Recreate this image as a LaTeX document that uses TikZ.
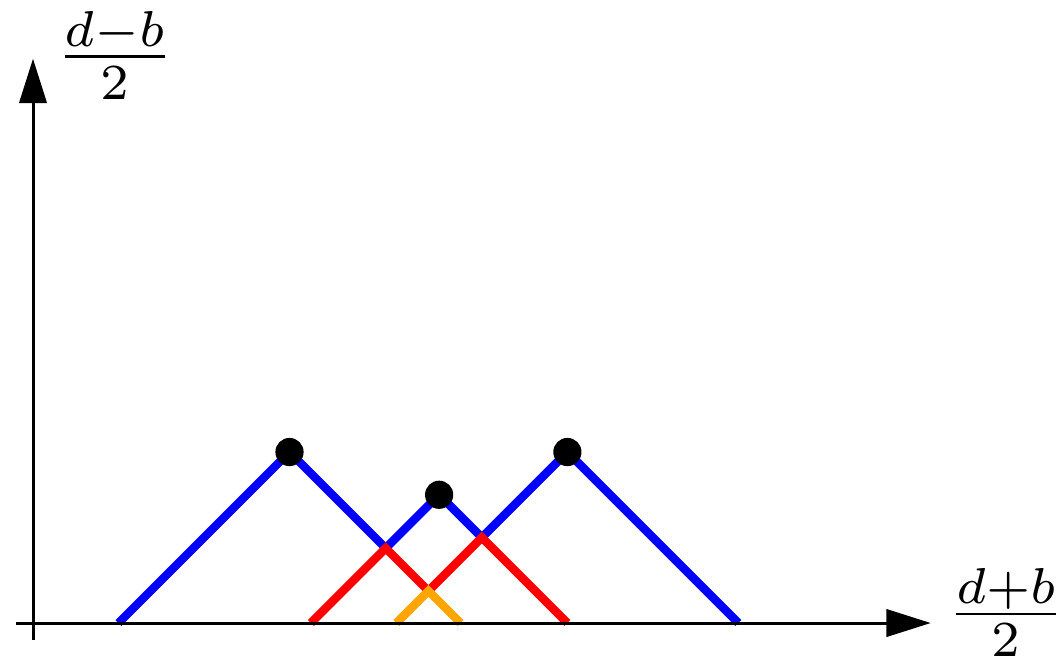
\documentclass[tikz,border=0pt]{standalone}
\usepackage{tikz}
\usepackage{xcolor}
\definecolor{vizUpper}{HTML}{0000FF}
\definecolor{vizMiddle}{HTML}{FF0000}
\definecolor{vizLower}{HTML}{FFA500}
\usetikzlibrary{arrows.meta}
\tikzset{
  vizAxis/.style={black, line width=1pt, -{Triangle[length=5.2mm, width=3.2mm]}},
  vizPath/.style={line width=2.8pt},
  vizLabel/.style={scale=2.4},
  vizDot/.style={circle, fill=black, inner sep=0pt, minimum size=3.3mm}
}

\begin{document}
\begin{tikzpicture}
  \useasboundingbox (-0.386,-0.421) rectangle (12.035,7.287);
  \coordinate (O) at (0,0);
  \coordinate (xstart) at (-0.2,0);
  \coordinate (xend) at (10.5,0);
  \coordinate (ystart) at (0,-0.2);
  \coordinate (yend) at (0,6.6);
  \coordinate (B0) at (1,0);
  \coordinate (P1) at (3,2);
  \coordinate (Q1) at (4.125,0.875);
  \coordinate (P2) at (4.75,1.5);
  \coordinate (Q2) at (5.25,1);
  \coordinate (P3) at (6.25,2);
  \coordinate (B1) at (8.25,0);
  \coordinate (R0) at (3.25,0);
  \coordinate (S) at (4.625,0.375);
  \coordinate (R1) at (6.25,0);
  \coordinate (T0) at (4.25,0);
  \coordinate (T1) at (5,0);
  \draw[vizPath, vizUpper] (B0) -- (P1) -- (Q1) -- (P2) -- (Q2) -- (P3) -- (B1);
  \draw[vizPath, vizMiddle] (R0) -- (Q1) -- (S) -- (Q2) -- (R1);
  \draw[vizPath, vizLower] (T0) -- (S) -- (T1);
  \draw[vizAxis] (xstart) -- (xend);
  \draw[vizAxis] (ystart) -- (yend);
  \node[vizDot] (D1) at (P1) {};
  \node[vizDot] (D2) at (P2) {};
  \node[vizDot] (D3) at (P3) {};
  \node[vizLabel] (xlabel) at (11.38,0.12) {$\frac{d+b}{2}$};
  \node[vizLabel] (ylabel) at (0.96,6.64) {$\frac{d-b}{2}$};
\end{tikzpicture}
\end{document}
